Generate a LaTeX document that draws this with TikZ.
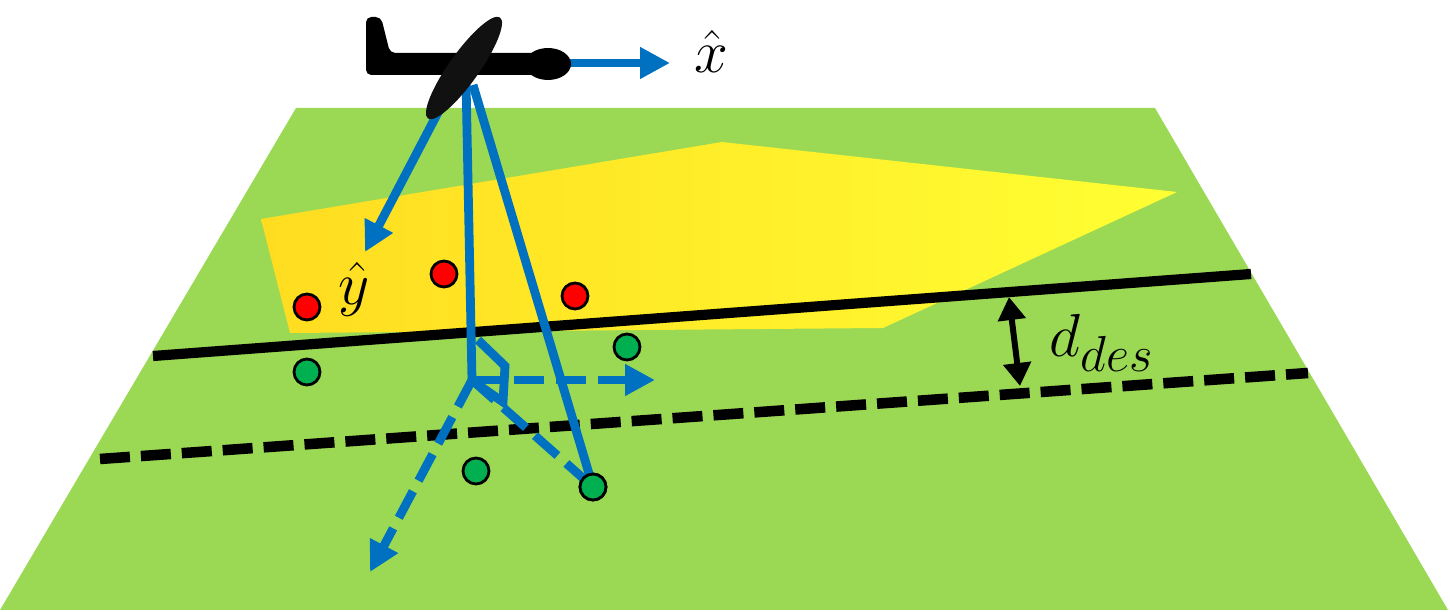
\documentclass[tikz,border=0pt]{standalone}
\usepackage{amsmath,amssymb}
\usepackage{xcolor}
\usepackage{tikz}
\usetikzlibrary{calc,arrows.meta}
\definecolor{ground}{HTML}{9BD955}
\definecolor{zoneL}{HTML}{FFDC20}
\definecolor{zoneR}{HTML}{FFFF33}
\definecolor{vec}{HTML}{0070C0}
\definecolor{redpt}{HTML}{FF0000}
\definecolor{greenpt}{HTML}{00B050}
\definecolor{wingc}{HTML}{111111}
\tikzset{
  bound/.style={draw=black, line width=2.9pt},
  offs/.style={draw=black, line width=3pt, dash pattern=on 3mm off 1.1mm},
  ray/.style={draw=vec, line width=2.5pt},
  axis/.style={ray, -{Triangle[length=3mm,width=3mm]}},
  proj/.style={ray, dash pattern=on 3mm off 1.2mm},
  pt/.style={circle, draw=black, line width=0.8pt, minimum size=2.6mm, inner sep=0pt},
  gap/.style={draw=black, line width=1.7pt, {Triangle[length=2.3mm,width=2.7mm]}-{Triangle[length=2.3mm,width=2.7mm]}},
  lab/.style={text=black, font=\fontsize{17}{20}\selectfont},
}

\begin{document}
\begin{tikzpicture}[x=0.1mm,y=-0.1mm]
  \useasboundingbox (0,0) rectangle (1450,612);
  % ground plane and target zone
  \coordinate (gTL) at (296,108);
  \coordinate (gTR) at (1155,108);
  \coordinate (gBR) at (1448,610);
  \coordinate (gBL) at (0,610);
  \fill[ground] (gTL) -- (gTR) -- (gBR) -- (gBL) -- cycle;
  \shade[left color=zoneL, right color=zoneR]
    (261,219) -- (722,142) -- (1177,192) -- (883,328) -- (290,333) -- cycle;

  % boundary and offset line
  \coordinate (bL) at (153,356);
  \coordinate (bR) at (1251,274);
  \coordinate (oL) at (100,459);
  \coordinate (oR) at (1308,373);
  \draw[bound] (bL) -- (bR);
  \draw[offs] (oL) -- (oR);
  \coordinate (dTop) at (1009,297);
  \coordinate (dBot) at (1020,386);
  \draw[gap] (dTop) -- (dBot);
  \node[lab,font=\fontsize{19}{22}\selectfont] (dlab) at (1102,343) {$d_{des}$};

  % points
  \node[pt,fill=redpt] (r1) at (307,307) {};
  \node[pt,fill=redpt] (r2) at (444,274) {};
  \node[pt,fill=redpt] (r3) at (575,296) {};
  \node[pt,fill=greenpt] (g1) at (307,372) {};
  \node[pt,fill=greenpt] (g2) at (627,347) {};
  \node[pt,fill=greenpt] (g3) at (476,471) {};

  % body axes and rays
  \coordinate (cg) at (466,80);
  \coordinate (cgR) at (473,85);
  \coordinate (foot) at (472,380);
  \coordinate (xtip) at (670,63);
  \coordinate (nose) at (565,63);
  \coordinate (ytip) at (365,252);
  \coordinate (ptip) at (655,380);
  \coordinate (qtip) at (370,572);
  \draw[axis] (nose) -- (xtip);
  \draw[axis] (455,80) -- (ytip);
  \node[lab] (xhat) at (711,51) {$\hat{x}$};
  \node[lab] (yhat) at (354,289) {$\hat{y}$};
  \node[pt,fill=greenpt] (g4) at (593,487) {};
  \draw[proj] (foot) -- (g4.center);
  \draw[proj,-{Triangle[length=3mm,width=3mm]}] (foot) -- (ptip);
  \draw[proj,-{Triangle[length=3mm,width=3mm]}] (foot) -- (qtip);
  \draw[ray] (cg) -- (foot);
  \draw[ray] (cgR) -- (g4.center);
  \draw[ray,line join=miter] (478,340) -- (505,366) -- (503,402) -- (480,386);
  \node[pt,fill=greenpt] at (g4) {};

  % aircraft
  \fill[black, rounded corners=1.5pt] (366,17) -- (381,17) -- (390,53) -- (548,53) -- (548,75) -- (366,75) -- cycle;
  \fill[black] (548,64) ellipse [x radius=23, y radius=16];
  \fill[wingc, rotate around={54.5:(464,68)}] (464,68) ellipse [x radius=62, y radius=15];
\end{tikzpicture}
\end{document}
